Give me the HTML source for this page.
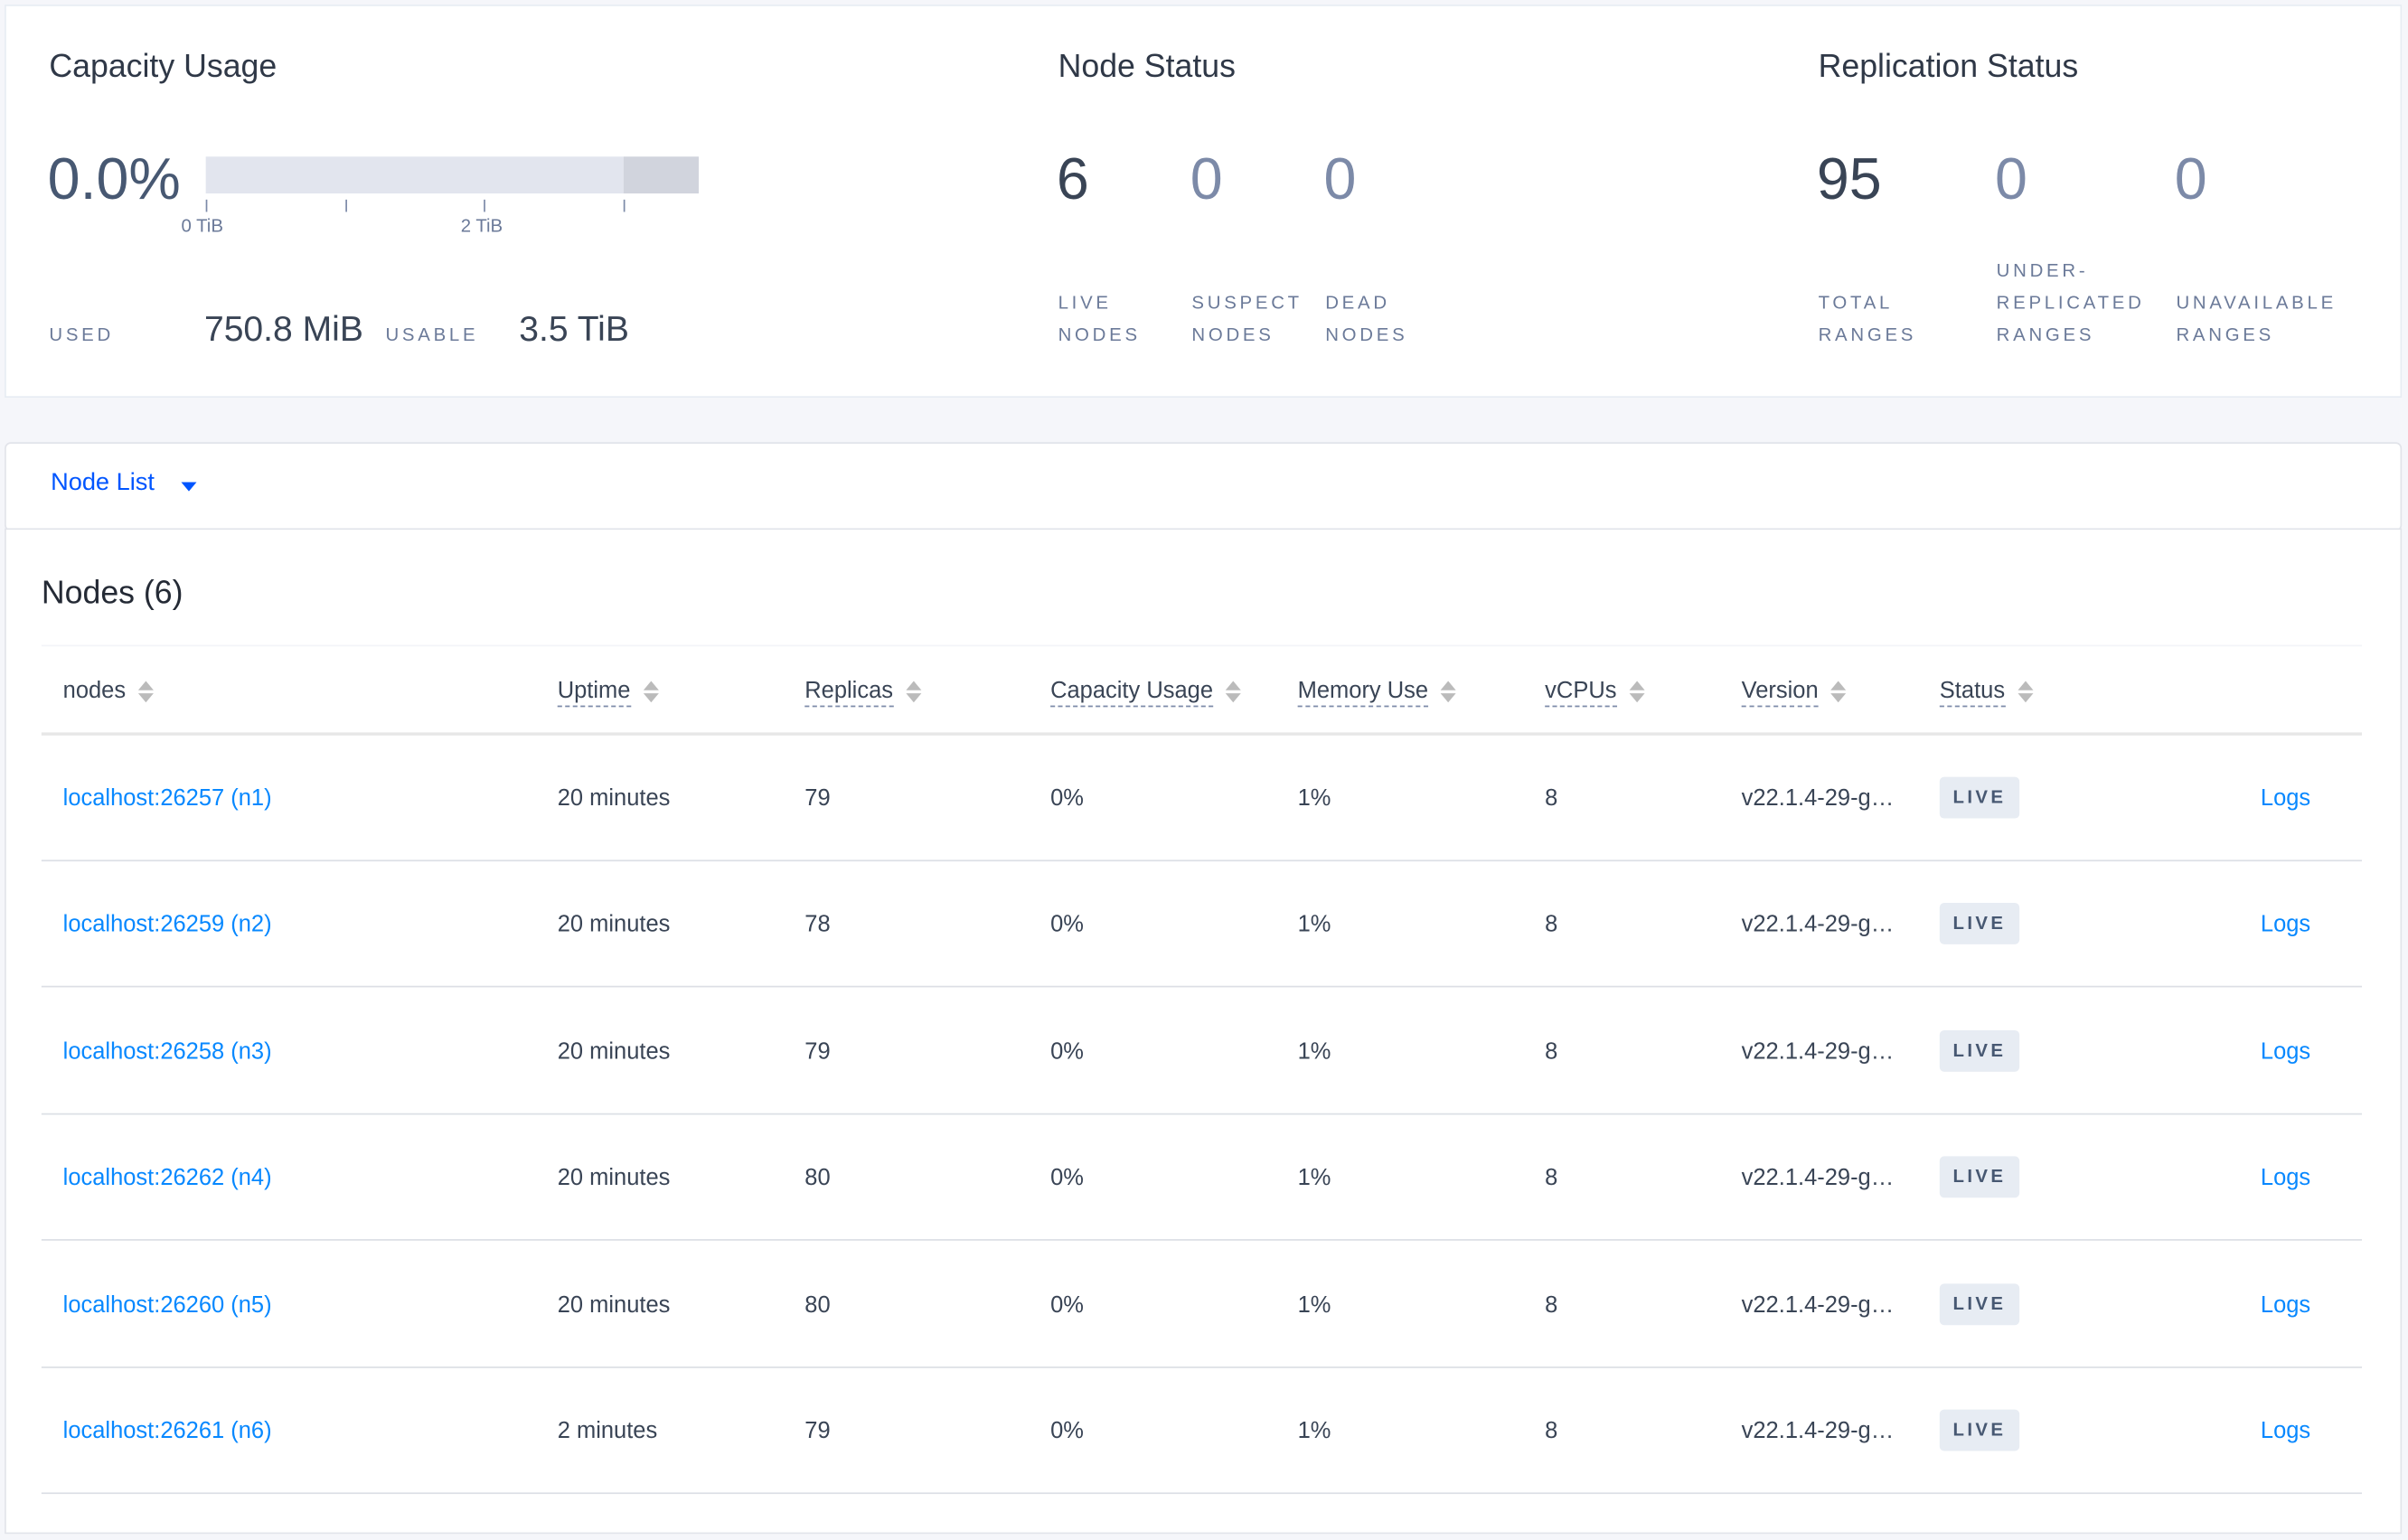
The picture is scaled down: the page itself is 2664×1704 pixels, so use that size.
<!DOCTYPE html>
<html><head><meta charset="utf-8"><style>
html,body{margin:0;padding:0;background:#f5f6fa;width:2664px;height:1704px;overflow:hidden}
#w{position:absolute;left:0;top:0;width:1568px;height:1003px;transform:scale(1.69898);transform-origin:0 0;font-family:"Liberation Sans",sans-serif;color:#394455}
.a{position:absolute;white-space:nowrap}
.card{position:absolute;background:#fff;border:1px solid #e7ecf3}
.t{font-size:21px;color:#2f3847;transform:translateY(-50%)}
.big{font-size:38px;transform:translateY(-50%)}
.lbl{font-size:12px;letter-spacing:2.2px;color:#6b7a99;line-height:21px}
.h{font-size:15px;transform:translateY(-50%);color:#394455}
.h u{text-decoration:none;border-bottom:1px dashed #7c8aa8;padding-bottom:1px}
.s{display:inline-block;vertical-align:middle;margin-left:8px;width:10px;height:14px;position:relative}
.s:before{content:"";position:absolute;left:0;top:0;border-left:5px solid transparent;border-right:5px solid transparent;border-bottom:6px solid #bbb}
.s:after{content:"";position:absolute;left:0;bottom:0;border-left:5px solid transparent;border-right:5px solid transparent;border-top:6px solid #bbb}
.c{font-size:15px;transform:translateY(-50%)}
.lk{color:#0788ff}
.bd{background:#e7ecf3;border-radius:3px;font-size:12px;font-weight:bold;letter-spacing:2px;width:52px;height:27px;line-height:27px;text-align:center;color:#475872}
.ln{position:absolute;left:27px;width:1511px;height:1px;background:#dcdfe5}
</style></head><body><div id="w">
<div class="card" style="left:3px;top:3px;width:1559px;height:254px"></div>
<div class="a t" style="left:32px;top:44px">Capacity Usage</div>
<div class="a big" style="left:31px;top:118px;color:#475872">0.0%</div>
<div class="a" style="left:134px;top:102px;width:272px;height:24px;background:#e2e5ee"></div>
<div class="a" style="left:406px;top:102px;width:49px;height:24px;background:#d1d4dd"></div>
<div class="a" style="left:134px;top:130px;width:1px;height:8px;background:#7c8aa8"></div>
<div class="a" style="left:225px;top:130px;width:1px;height:8px;background:#7c8aa8"></div>
<div class="a" style="left:315px;top:130px;width:1px;height:8px;background:#7c8aa8"></div>
<div class="a" style="left:406px;top:130px;width:1px;height:8px;background:#7c8aa8"></div>
<div class="a" style="left:118px;top:140px;font-size:12px;color:#6b7a99">0 TiB</div>
<div class="a" style="left:300px;top:140px;font-size:12px;color:#6b7a99">2 TiB</div>
<div class="a lbl" style="left:32px;top:208px">USED</div>
<div class="a" style="left:133px;top:201px;font-size:23px;color:#394455">750.8 MiB</div>
<div class="a lbl" style="left:251px;top:208px">USABLE</div>
<div class="a" style="left:338px;top:201px;font-size:23px;color:#394455">3.5 TiB</div>

<div class="a t" style="left:689px;top:44px">Node Status</div>
<div class="a big" style="left:688px;top:118px;color:#394455">6</div>
<div class="a big" style="left:775px;top:118px;color:#7c8aa8">0</div>
<div class="a big" style="left:862px;top:118px;color:#7c8aa8">0</div>
<div class="a lbl" style="left:689px;top:187px">LIVE<br>NODES</div>
<div class="a lbl" style="left:776px;top:187px">SUSPECT<br>NODES</div>
<div class="a lbl" style="left:863px;top:187px">DEAD<br>NODES</div>

<div class="a t" style="left:1184px;top:44px">Replication Status</div>
<div class="a big" style="left:1183px;top:118px;color:#394455">95</div>
<div class="a big" style="left:1299px;top:118px;color:#7c8aa8">0</div>
<div class="a big" style="left:1416px;top:118px;color:#7c8aa8">0</div>
<div class="a lbl" style="left:1184px;top:187px">TOTAL<br>RANGES</div>
<div class="a lbl" style="left:1300px;top:166px">UNDER-<br>REPLICATED<br>RANGES</div>
<div class="a lbl" style="left:1417px;top:187px">UNAVAILABLE<br>RANGES</div>

<div class="card" style="left:3px;top:288px;width:1559px;height:56px;border-radius:4px;border-color:#e2e4ea"></div>
<div class="a" style="left:33px;top:306px;font-size:16px;color:#0055ff">Node List</div>
<div class="a" style="left:118px;top:314px;border-left:5px solid transparent;border-right:5px solid transparent;border-top:6px solid #0055ff"></div>
<div class="card" style="left:3px;top:344px;width:1559px;height:653px;border-color:#e2e4ea"></div>
<div class="a" style="left:27px;top:387px;font-size:21px;color:#242a35;transform:translateY(-50%)">Nodes (6)</div>
<div class="ln" style="top:420px;background:#f3f4f8"></div>
<div class="ln" style="top:477px;height:2px;background:#e7e7e7"></div>

<div class="a h" style="left:41px;top:450px">nodes<span class="s"></span></div>
<div class="a h" style="left:363px;top:450px"><u>Uptime</u><span class="s"></span></div>
<div class="a h" style="left:524px;top:450px"><u>Replicas</u><span class="s"></span></div>
<div class="a h" style="left:684px;top:450px"><u>Capacity Usage</u><span class="s"></span></div>
<div class="a h" style="left:845px;top:450px"><u>Memory Use</u><span class="s"></span></div>
<div class="a h" style="left:1006px;top:450px"><u>vCPUs</u><span class="s"></span></div>
<div class="a h" style="left:1134px;top:450px"><u>Version</u><span class="s"></span></div>
<div class="a h" style="left:1263px;top:450px"><u>Status</u><span class="s"></span></div>

<div id="rows"></div>
<script>
var d=[["26257","n1","20 minutes","79"],["26259","n2","20 minutes","78"],["26258","n3","20 minutes","79"],["26262","n4","20 minutes","80"],["26260","n5","20 minutes","80"],["26261","n6","2 minutes","79"]];
var h="";
d.forEach(function(r,i){var y=520+i*82.4;
h+='<div class="a c lk" style="left:41px;top:'+y+'px">localhost:'+r[0]+' ('+r[1]+')</div>';
h+='<div class="a c" style="left:363px;top:'+y+'px">'+r[2]+'</div>';
h+='<div class="a c" style="left:524px;top:'+y+'px">'+r[3]+'</div>';
h+='<div class="a c" style="left:684px;top:'+y+'px">0%</div>';
h+='<div class="a c" style="left:845px;top:'+y+'px">1%</div>';
h+='<div class="a c" style="left:1006px;top:'+y+'px">8</div>';
h+='<div class="a c" style="left:1134px;top:'+y+'px">v22.1.4-29-g…</div>';
h+='<div class="a bd" style="left:1263px;top:'+(y-14)+'px">LIVE</div>';
h+='<div class="a c lk" style="left:1472px;top:'+y+'px">Logs</div>';
h+='<div class="ln" style="top:'+(y+40)+'px"></div>';});
document.getElementById("rows").innerHTML=h;
</script>
</div></body></html>
